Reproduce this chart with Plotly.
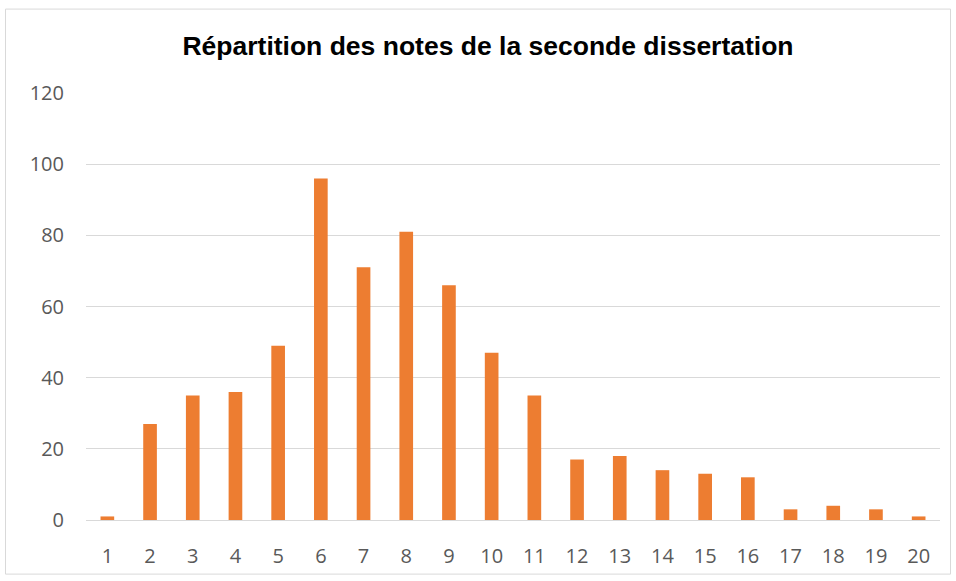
import plotly.graph_objects as go

notes = [str(i) for i in range(1, 21)]
effectifs = [1, 27, 35, 36, 49, 96, 71, 81, 66, 47, 35, 17, 18, 14, 13, 12, 3, 4, 3, 1]
y_ticks = [0, 20, 40, 60, 80, 100, 120]
titre = "Répartition des notes de la seconde dissertation"

W, H = 956, 581
ml, mr, mt, mb = 86, 16, 93, 58
pw, ph = W - ml - mr, H - mt - mb

fig = go.Figure(go.Bar(x=notes, y=effectifs, marker=dict(color="#ED7D31", line=dict(width=0))))

def px_to_paper_x(px):
    return (px - ml) / pw

def px_to_paper_y(py):
    return (H - mb - py) / ph

tick_font = dict(family="Open Sans, Lato, sans-serif", size=20, color="#595959")

fig.update_layout(
    width=W, height=H,
    margin=dict(l=ml, r=mr, t=mt, b=mb),
    paper_bgcolor="white", plot_bgcolor="white",
    bargap=0.68,
    showlegend=False,
    title=dict(text=titre, x=488 / W, xanchor="center", y=1 - 46 / H, yanchor="middle",
               font=dict(family="Liberation Sans, Arial", size=26.5, color="#000000", weight="bold")),
    xaxis=dict(type="category", showgrid=False, showline=True, linecolor="#d9d9d9", linewidth=1,
               ticks="", ticklabelstandoff=18, tickfont=tick_font),
    yaxis=dict(range=[0, 120], tickvals=y_ticks, showgrid=True, gridcolor="#d9d9d9", gridwidth=1,
               zeroline=False, showline=False, ticks="", ticklabelstandoff=21, tickfont=tick_font),
    shapes=[dict(type="rect", xref="paper", yref="paper",
                 x0=px_to_paper_x(5.5), x1=px_to_paper_x(950.5),
                 y0=px_to_paper_y(577.5), y1=px_to_paper_y(8.5),
                 line=dict(color="#d9d9d9", width=1), fillcolor="rgba(0,0,0,0)", layer="below")],
)

fig.write_html("out.html", config={"displayModeBar": False},
               post_script="document.body.style.margin='0';document.body.style.overflow='hidden';")
